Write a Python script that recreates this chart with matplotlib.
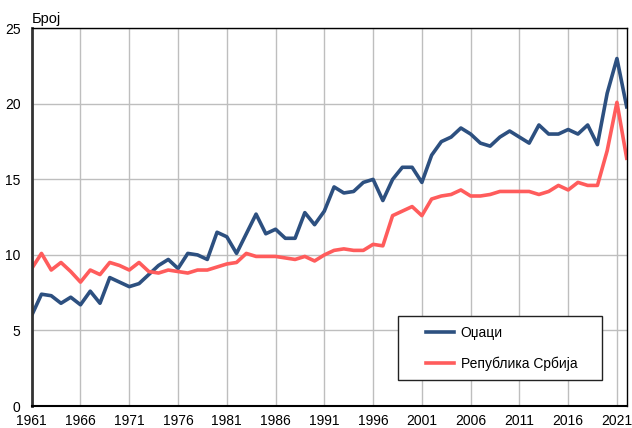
import matplotlib
matplotlib.use("Agg")
import matplotlib.pyplot as plt
from matplotlib.patches import Rectangle

years = list(range(1961, 2023))
odzaci = [6.0, 7.4, 7.3, 6.8, 7.2, 6.7, 7.6, 6.8, 8.5, 8.2,
          7.9, 8.1, 8.7, 9.3, 9.7, 9.1, 10.1, 10.0, 9.7, 11.5,
          11.2, 10.1, 11.4, 12.7, 11.4, 11.7, 11.1, 11.1, 12.8, 12.0,
          12.9, 14.5, 14.1, 14.2, 14.8, 15.0, 13.6, 15.0, 15.8, 15.8,
          14.8, 16.6, 17.5, 17.8, 18.4, 18.0, 17.4, 17.2, 17.8, 18.2,
          17.8, 17.4, 18.6, 18.0, 18.0, 18.3, 18.0, 18.6, 17.3, 20.7,
          23.0, 19.8]
srbija = [9.1, 10.1, 9.0, 9.5, 8.9, 8.2, 9.0, 8.7, 9.5, 9.3,
          9.0, 9.5, 8.9, 8.8, 9.0, 8.9, 8.8, 9.0, 9.0, 9.2,
          9.4, 9.5, 10.1, 9.9, 9.9, 9.9, 9.8, 9.7, 9.9, 9.6,
          10.0, 10.3, 10.4, 10.3, 10.3, 10.7, 10.6, 12.6, 12.9, 13.2,
          12.6, 13.7, 13.9, 14.0, 14.3, 13.9, 13.9, 14.0, 14.2, 14.2,
          14.2, 14.2, 14.0, 14.2, 14.6, 14.3, 14.8, 14.6, 14.6, 16.9,
          20.1, 16.4]
labels = ["Оџаци", "Република Србија"]
xticks = list(range(1961, 2022, 5))
yticks = [0, 5, 10, 15, 20, 25]

plt.rcParams['font.family'] = ['Liberation Sans', 'DejaVu Sans']

fig = plt.figure(figsize=(6.32, 4.28), dpi=100)
ax = fig.add_axes([0.0502, 0.0514, 0.9414, 0.8825])

ax.plot(years, odzaci, color='#2D5080', lw=2.6, label=labels[0], solid_joinstyle='round')
ax.plot(years, srbija, color='#FF5C5C', lw=2.6, label=labels[1], solid_joinstyle='round')

ax.set_xlim(1961, 2022)
ax.set_ylim(0, 25)
ax.set_xticks(xticks)
ax.set_yticks(yticks)
ax.tick_params(length=0, labelsize=10, pad=6)
ax.tick_params(axis='y', pad=8)
ax.grid(True, color='#BEBEBE', lw=1.0)
ax.set_axisbelow(True)
for s in ['top', 'right', 'bottom']:
    ax.spines[s].set_color('black')
    ax.spines[s].set_linewidth(1.0)
ax.spines['left'].set_color('#333333')
ax.spines['left'].set_linewidth(2.0)
ax.spines['bottom'].set_linewidth(1.5)

# legend box
ax.add_patch(Rectangle((0.616, 0.069), 0.342, 0.169, transform=ax.transAxes,
                       fill=True, facecolor='white', edgecolor='#222222', lw=1.0, zorder=4))
leg = ax.legend(loc='upper left', bbox_to_anchor=(0.6635, 0.211), frameon=False,
                fontsize=10, handlelength=1.95, handletextpad=0.5, labelspacing=1.16,
                borderpad=0, borderaxespad=0)
leg.set_zorder(5)

fig.text(0.05, 0.955, "Број", fontsize=10.5, ha='left', va='center')

fig.savefig("out.png", dpi=100)
